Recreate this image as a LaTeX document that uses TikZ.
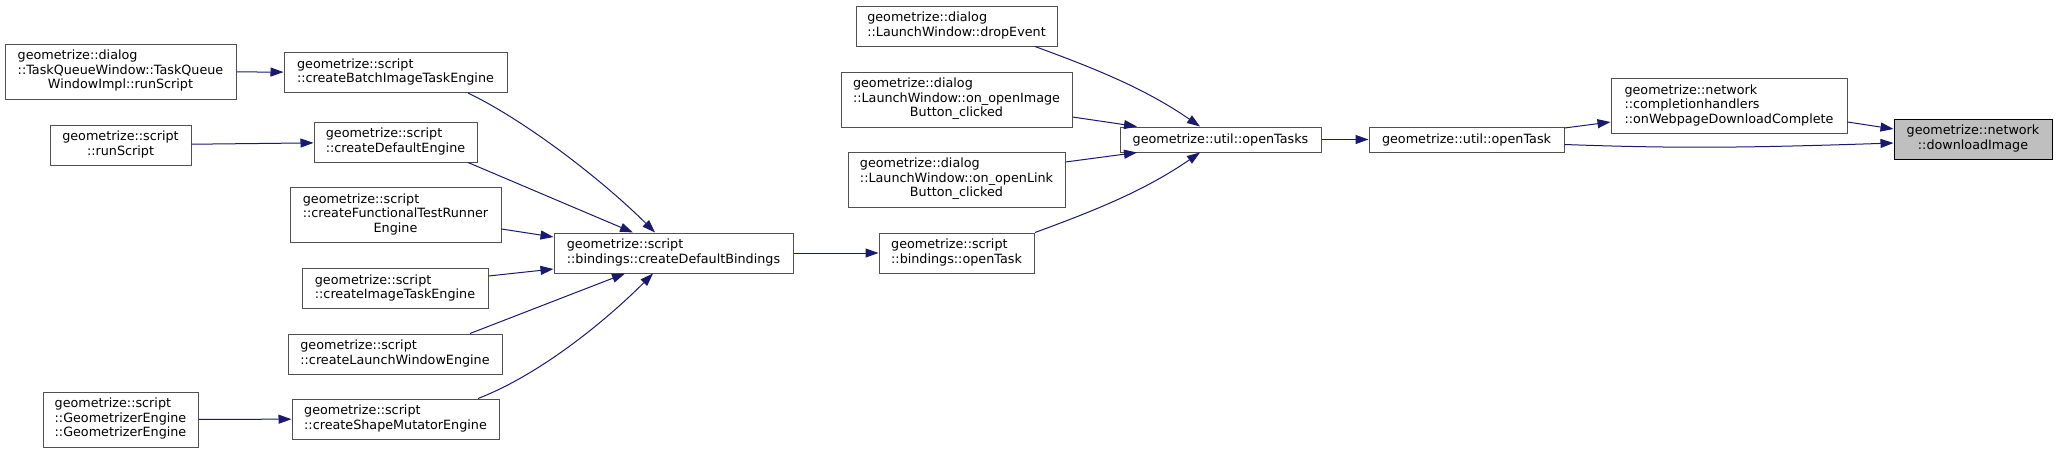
\documentclass[tikz,border=0pt]{standalone}
\usepackage{fontspec}
\setmainfont{DejaVu Sans}
\usetikzlibrary{arrows.meta,calc}
\definecolor{edgeblue}{HTML}{191970}
\definecolor{boxgrey}{HTML}{505050}
\definecolor{hlgrey}{HTML}{BFBFBF}
\newcommand{\lb}[2]{\begin{tabular}{@{}l@{}}#1\\\multicolumn{1}{@{}c@{}}{#2}\end{tabular}}
\begin{document}
\begin{tikzpicture}[x=1pt,y=-1pt,
  box/.style={draw=boxgrey, line width=1pt, fill=white, inner sep=0pt, font=\fontsize{12.75}{14.5}\selectfont},
  hbox/.style={box, draw=black, fill=hlgrey},
  wh/.style 2 args={minimum width=#1pt, minimum height=#2pt},
  edge/.style={draw=edgeblue, line width=1pt, -{Triangle[length=13pt,width=9pt]}}]
\useasboundingbox (0,0) rectangle (2057,453);
% column 1
\node[box, wh={231}{55}] (tq) at (120.5,71.5) {\lb{geometrize::dialog\\::TaskQueueWindow::TaskQueue}{WindowImpl::runScript}};
\node[box, wh={141}{40}] (rs) at (120.5,145) {\lb{geometrize::script}{::runScript}};
\node[box, wh={155}{55}] (ge) at (120.5,419.5) {\lb{geometrize::script\\::GeometrizerEngine}{::GeometrizerEngine}};
% column 2
\node[box, wh={223}{40}] (cbite) at (395.5,72.5) {\lb{geometrize::script}{::createBatchImageTaskEngine}};
\node[box, wh={163}{40}] (cde) at (395.5,142) {\lb{geometrize::script}{::createDefaultEngine}};
\node[box, wh={211}{55}] (cftr) at (395.5,215) {\lb{geometrize::script\\::createFunctionalTestRunner}{Engine}};
\node[box, wh={186}{40}] (cite) at (395,288.5) {\lb{geometrize::script}{::createImageTaskEngine}};
\node[box, wh={214}{40}] (clwe) at (395,354) {\lb{geometrize::script}{::createLaunchWindowEngine}};
\node[box, wh={207}{40}] (csme) at (395.5,419) {\lb{geometrize::script}{::createShapeMutatorEngine}};
% column 3
\node[box, wh={239}{40}] (cdb) at (673.5,253) {\lb{geometrize::script}{::bindings::createDefaultBindings}};
% column 4
\node[box, wh={201}{40}] (de) at (956.5,26) {\lb{geometrize::dialog}{::LaunchWindow::dropEvent}};
\node[box, wh={231}{55}] (oib) at (956.5,99.5) {\lb{geometrize::dialog\\::LaunchWindow::on\_openImage}{Button\_clicked}};
\node[box, wh={217}{55}] (olb) at (956.5,179.5) {\lb{geometrize::dialog\\::LaunchWindow::on\_openLink}{Button\_clicked}};
\node[box, wh={155}{40}] (bot) at (956.5,253) {\lb{geometrize::script}{::bindings::openTask}};
% column 5+
\node[box, wh={201}{25}] (ots) at (1220.5,139.5) {geometrize::util::openTasks};
\node[box, wh={195}{25}] (ot) at (1466.5,139.5) {geometrize::util::openTask};
\node[box, wh={236}{55}] (owdc) at (1729,106) {\lb{geometrize::network\\::completionhandlers}{::onWebpageDownloadComplete}};
\node[hbox, wh={158}{40}] (di) at (1973,139) {\lb{geometrize::network}{::downloadImage}};
% edges left
\draw[edge] (tq) -- (cbite);
\draw[edge] (rs) -- (cde);
\draw[edge] (ge) -- (csme);
\draw[edge] ($(cbite.south)+(72.5,0)$) .. controls +(62,30) and +(-48,-48) .. ($(cdb.north)+(-18.5,0)$);
\draw[edge] ($(cde.south)+(72.5,0)$) -- ($(cdb.north)+(-40.5,0)$);
\draw[edge] ($(cftr.east)+(0,14)$) -- ($(cdb.west)+(0,-16)$);
\draw[edge] ($(cite.east)+(0,-12.5)$) -- ($(cdb.west)+(0,16)$);
\draw[edge] ($(clwe.north)+(75,0)$) -- ($(cdb.south)+(-48.5,0)$);
\draw[edge] ($(csme.north)+(82.5,0)$) .. controls +(62,-24) and +(-48,48) .. ($(cdb.south)+(-20.5,0)$);
\draw[edge] (cdb) -- (bot);
% edges right
\draw[edge] ($(de.south)+(78.5,0)$) .. controls +(60,22) and +(-55,-38) .. ($(ots.north)+(-20.5,0)$);
\draw[edge] ($(oib.east)+(0,17.5)$) -- ($(ots.north)+(-83.5,0)$);
\draw[edge] ($(olb.east)+(0,-17.5)$) -- ($(ots.south)+(-83.5,0)$);
\draw[edge] ($(bot.north)+(78.5,0)$) .. controls +(60,-22) and +(-55,38) .. ($(ots.south)+(-20.5,0)$);
\draw[edge] (ots) -- (ot);
\draw[edge] ($(ot.east)+(0,-11.5)$) -- ($(owdc.west)+(0,16)$);
\draw[edge] ($(owdc.east)+(0,16)$) -- ($(di.west)+(0,-10)$);
\draw[edge] ($(ot.east)+(0,5)$) .. controls +(110,4) and +(-150,5) .. ($(di.west)+(0,4)$);
\end{tikzpicture}
\end{document}
